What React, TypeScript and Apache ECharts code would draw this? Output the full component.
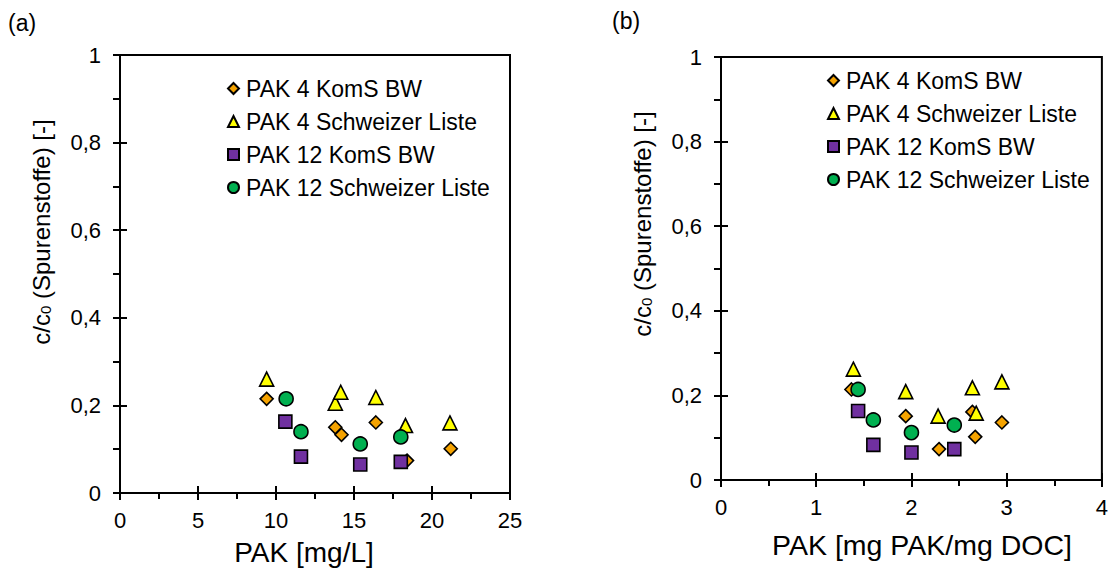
import React, { useEffect, useRef } from "react";
import * as echarts from "echarts";

const seriesNames = [
  "PAK 4 KomS BW",
  "PAK 4 Schweizer Liste",
  "PAK 12 KomS BW",
  "PAK 12 Schweizer Liste",
];

// Panel (a): PAK [mg/L]
const a_pak4Koms_x = [9.4, 13.8, 14.2, 16.4, 18.4, 21.2];
const a_pak4Koms_y = [0.215, 0.15, 0.133, 0.161, 0.074, 0.101];
const a_pak4Schw_x = [9.4, 13.8, 14.15, 16.4, 18.3, 21.15];
const a_pak4Schw_y = [0.26, 0.205, 0.23, 0.218, 0.154, 0.16];
const a_pak12Koms_x = [10.6, 11.6, 15.4, 18.0];
const a_pak12Koms_y = [0.163, 0.083, 0.065, 0.071];
const a_pak12Schw_x = [10.65, 11.6, 15.4, 18.0];
const a_pak12Schw_y = [0.215, 0.14, 0.112, 0.128];

// Panel (b): PAK [mg PAK/mg DOC]
const b_pak4Koms_x = [1.37, 1.94, 2.29, 2.64, 2.67, 2.95];
const b_pak4Koms_y = [0.214, 0.151, 0.073, 0.161, 0.102, 0.136];
const b_pak4Schw_x = [1.39, 1.94, 2.28, 2.64, 2.68, 2.95];
const b_pak4Schw_y = [0.262, 0.209, 0.151, 0.218, 0.158, 0.232];
const b_pak12Koms_x = [1.44, 1.6, 2.0, 2.45];
const b_pak12Koms_y = [0.163, 0.083, 0.065, 0.073];
const b_pak12Schw_x = [1.44, 1.6, 2.0, 2.45];
const b_pak12Schw_y = [0.214, 0.142, 0.112, 0.13];

const panelLabels = ["(a)", "(b)"];
const xTitles = ["PAK [mg/L]", "PAK [mg PAK/mg DOC]"];
const yTitleRich = "{n|c/c}{s|0}{n| (Spurenstoffe) [-]}";

const FONT = "'Liberation Sans', Arial, sans-serif";

const zip = (xs: number[], ys: number[]) => xs.map((x, i) => [x, ys[i]]);

const styles = [
  { symbol: "diamond", size: 13, color: "#F5A300" },
  { symbol: "triangle", size: 14, color: "#FFFF00" },
  { symbol: "rect", size: 13, color: "#7030A0" },
  { symbol: "circle", size: 14, color: "#00B050" },
];

export default function App() {
  const ref = useRef<HTMLDivElement>(null);
  useEffect(() => {
    if (!ref.current) return;
    const chart = echarts.init(ref.current, undefined, { renderer: "svg" });

    const panels = [
      [
        zip(a_pak4Koms_x, a_pak4Koms_y),
        zip(a_pak4Schw_x, a_pak4Schw_y),
        zip(a_pak12Koms_x, a_pak12Koms_y),
        zip(a_pak12Schw_x, a_pak12Schw_y),
      ],
      [
        zip(b_pak4Koms_x, b_pak4Koms_y),
        zip(b_pak4Schw_x, b_pak4Schw_y),
        zip(b_pak12Koms_x, b_pak12Koms_y),
        zip(b_pak12Schw_x, b_pak12Schw_y),
      ],
    ];

    const series: any[] = [];
    panels.forEach((p, pi) => {
      p.forEach((d, si) => {
        series.push({
          type: "scatter",
          name: seriesNames[si],
          xAxisIndex: pi,
          yAxisIndex: pi,
          data: d,
          symbol: styles[si].symbol,
          symbolSize: styles[si].size,
          itemStyle: { color: styles[si].color, borderColor: "#000", borderWidth: 1.6, opacity: 1 },
          emphasis: { disabled: true },
        });
      });
    });

    const xRanges = [
      { min: 0, max: 25, interval: 5 },
      { min: 0, max: 4, interval: 1 },
    ];

    const lineStyle = { color: "#000", width: 2 };
    const labelStyle = { fontSize: 22, fontFamily: FONT, color: "#000" };

    const xAxis: any[] = [];
    const yAxis: any[] = [];
    // primary axes (outer ticks + labels)
    [0, 1].forEach((gi) => {
      xAxis.push({
        type: "value",
        gridIndex: gi,
        position: "bottom",
        ...xRanges[gi],
        axisLine: { show: true, onZero: false, lineStyle },
        axisTick: { show: true, inside: false, length: 7, lineStyle },
        minorTick: { show: true, splitNumber: 2, length: 6, lineStyle },
        splitLine: { show: false },
        axisLabel: { ...labelStyle, margin: 16 },
      });
      yAxis.push({
        type: "value",
        gridIndex: gi,
        position: "left",
        min: 0,
        max: 1,
        interval: 0.2,
        axisLine: { show: true, onZero: false, lineStyle },
        axisTick: { show: true, inside: false, length: 7, lineStyle },
        minorTick: { show: true, splitNumber: 2, length: 7, lineStyle },
        splitLine: { show: false },
        axisLabel: {
          ...labelStyle,
          margin: 19,
          formatter: (v: number) =>
            v === 0 ? "0" : v === 1 ? "1" : v.toFixed(1).replace(".", ","),
        },
      });
    });
    // secondary axes (inner half of crossing ticks)
    [0, 1].forEach((gi) => {
      xAxis.push({
        type: "value",
        gridIndex: gi,
        position: "bottom",
        ...xRanges[gi],
        axisLine: { show: false, onZero: false },
        axisTick: { show: true, inside: true, length: 7, lineStyle },
        splitLine: { show: false },
        axisLabel: { show: false },
      });
      yAxis.push({
        type: "value",
        gridIndex: gi,
        position: "left",
        min: 0,
        max: 1,
        interval: 0.2,
        axisLine: { show: false, onZero: false },
        axisTick: { show: true, inside: true, length: 7, lineStyle },
        splitLine: { show: false },
        axisLabel: { show: false },
      });
    });

    const legendBase = {
      orient: "vertical",
      padding: 0,
      itemWidth: 11,
      itemHeight: 11,
      itemGap: 10,
      selectedMode: false,
      textStyle: { fontSize: 23, fontFamily: FONT, color: "#000", padding: [0, 0, 0, 2] },
      data: seriesNames,
    };

    const richStyle = {
      n: { fontSize: 24, fontFamily: FONT, fill: "#000", verticalAlign: "bottom" },
      s: { fontSize: 15, fontFamily: FONT, fill: "#000", verticalAlign: "bottom", lineHeight: 10 },
    };

    chart.setOption({
      animation: false,
      backgroundColor: "#fff",
      grid: [
        { left: 120, top: 55, width: 390, height: 438, show: true, borderColor: "#000", borderWidth: 2, backgroundColor: "transparent" },
        { left: 721, top: 57, width: 382, height: 423, show: true, borderColor: "#000", borderWidth: 2, backgroundColor: "transparent" },
      ],
      xAxis,
      yAxis,
      legend: [
        { ...legendBase, left: 227, top: 77 },
        { ...legendBase, left: 827, top: 69 },
      ],
      graphic: [
        { type: "text", x: 8, y: 23, style: { text: panelLabels[0], fontSize: 23, fontFamily: FONT, fill: "#000", verticalAlign: "middle" } },
        { type: "text", x: 612, y: 21, style: { text: panelLabels[1], fontSize: 23, fontFamily: FONT, fill: "#000", verticalAlign: "middle" } },
        { type: "text", x: 304, y: 552, style: { text: xTitles[0], fontSize: 28, fontFamily: FONT, fill: "#000", align: "center", verticalAlign: "middle" } },
        { type: "text", x: 922, y: 545, style: { text: xTitles[1], fontSize: 28.5, fontFamily: FONT, fill: "#000", align: "center", verticalAlign: "middle" } },
        { type: "text", x: 41, y: 232, rotation: Math.PI / 2, style: { text: yTitleRich, rich: richStyle, align: "center", verticalAlign: "middle" } },
        { type: "text", x: 642, y: 224, rotation: Math.PI / 2, style: { text: yTitleRich, rich: richStyle, align: "center", verticalAlign: "middle" } },
      ],
      series,
    });
    return () => chart.dispose();
  }, []);
  return (
    <div
      ref={ref}
      style={{ position: "fixed", left: 0, top: 0, width: 1111, height: 574, background: "#fff" }}
    />
  );
}
